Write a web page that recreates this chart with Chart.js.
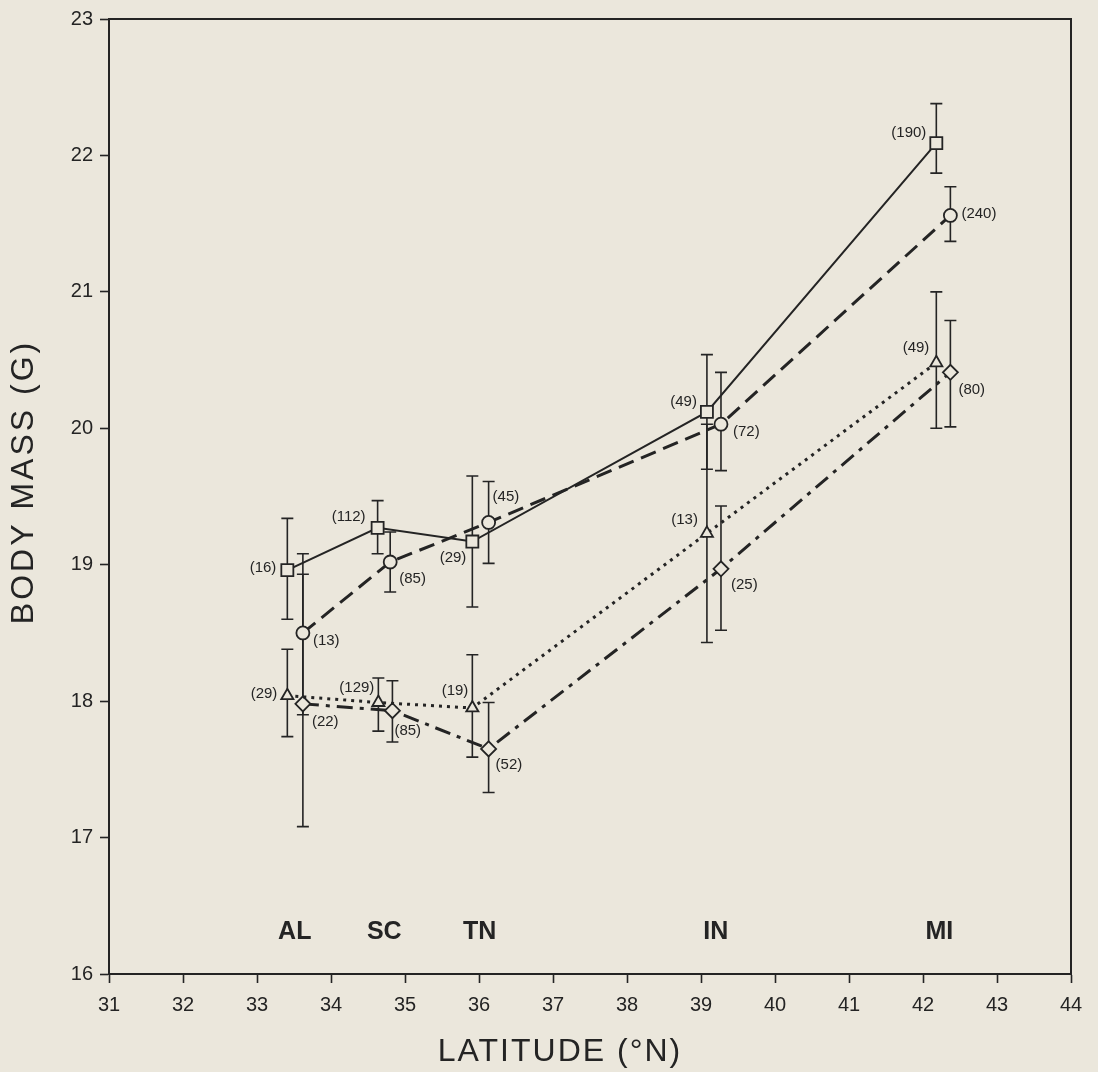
<!DOCTYPE html>
<html lang="en">
<head>
    <meta charset="UTF-8">
    <title>Body mass vs latitude</title>
    <script src="https://cdn.jsdelivr.net/npm/chart.js"></script>
</head>
<body>
    <div class="caixa">
        <canvas id="grafico"></canvas>
    </div>
<script>
    // latitude of each sample (each series is nudged a little sideways in the figure)
    var latQuadrado = [33.41, 34.63, 35.91, 39.08, 42.18];
    var latCirculo  = [33.62, 34.80, 36.13, 39.27, 42.37];
    var latTriangulo = [33.41, 34.64, 35.91, 39.08, 42.18];
    var latLosango  = [33.62, 34.83, 36.13, 39.27, 42.37];

    // mean body mass and error bar ends (g)
    var massaQuadrado = [18.96, 19.27, 19.17, 20.12, 22.09];
    var baixoQuadrado = [18.60, 19.08, 18.69, 19.70, 21.87];
    var altoQuadrado  = [19.34, 19.47, 19.65, 20.54, 22.38];

    var massaCirculo = [18.50, 19.02, 19.31, 20.03, 21.56];
    var baixoCirculo = [17.90, 18.80, 19.01, 19.69, 21.37];
    var altoCirculo  = [19.08, 19.24, 19.61, 20.41, 21.77];

    var massaTriangulo = [18.04, 17.99, 17.95, 19.23, 20.48];
    var baixoTriangulo = [17.74, 17.78, 17.59, 18.43, 20.00];
    var altoTriangulo  = [18.38, 18.17, 18.34, 20.03, 21.00];

    var massaLosango = [17.98, 17.93, 17.65, 18.97, 20.41];
    var baixoLosango = [17.08, 17.70, 17.33, 18.52, 20.01];
    var altoLosango  = [18.93, 18.15, 17.99, 19.43, 20.79];

    // sample sizes
    var nQuadrado = [16, 112, 29, 49, 190];
    var nCirculo = [13, 85, 45, 72, 240];
    var nTriangulo = [29, 129, 19, 13, 49];
    var nLosango = [22, 85, 52, 25, 80];

    // states
    var estados = ['AL', 'SC', 'TN', 'IN', 'MI'];
    var latEstados = [33.51, 34.72, 36.01, 39.2, 42.22];
    var massaEstados = 16.31;

    var tinta = '#242424';
    var fundo = '#ebe7dc';
    var fonte = '"Liberation Sans", Arial, Helvetica, sans-serif';

    // where the (n) labels sit next to each marker, in pixels
    var posQuadrado = [[-11,-2],[-12,-11],[-6,16],[-10,-10],[-10,-10]];
    var posCirculo = [[10,8],[9,17],[4,-26],[12,8],[11,-2]];
    var posTriangulo = [[-10,-2],[-4,-15],[-4,-17],[-9,-13],[-7,-15]];
    var posLosango = [[9,18],[2,20],[7,16],[10,16],[8,18]];

    function pontos(lat, massa){
        var p = [];
        for(var i = 0; i < lat.length; i++){
            p.push({x: lat[i], y: massa[i]});
        }
        return p;
    }

    var series = [
        {lat: latQuadrado, baixo: baixoQuadrado, alto: altoQuadrado, n: nQuadrado, pos: posQuadrado},
        {lat: latCirculo, baixo: baixoCirculo, alto: altoCirculo, n: nCirculo, pos: posCirculo},
        {lat: latTriangulo, baixo: baixoTriangulo, alto: altoTriangulo, n: nTriangulo, pos: posTriangulo},
        {lat: latLosango, baixo: baixoLosango, alto: altoLosango, n: nLosango, pos: posLosango}
    ];

    var barrasErro = {
        id: 'barrasErro',
        beforeDatasetsDraw(chart){
            var ctx = chart.ctx;
            var x = chart.scales.x, y = chart.scales.y;
            ctx.save();
            ctx.strokeStyle = tinta;
            ctx.lineWidth = 1.6;
            series.forEach(function(s){
                for(var i = 0; i < s.lat.length; i++){
                    var px = x.getPixelForValue(s.lat[i]);
                    var y1 = y.getPixelForValue(s.baixo[i]);
                    var y2 = y.getPixelForValue(s.alto[i]);
                    ctx.beginPath();
                    ctx.moveTo(px, y1); ctx.lineTo(px, y2);
                    ctx.moveTo(px - 6, y1); ctx.lineTo(px + 6, y1);
                    ctx.moveTo(px - 6, y2); ctx.lineTo(px + 6, y2);
                    ctx.stroke();
                }
            });
            ctx.restore();
        },
        afterDatasetsDraw(chart){
            var ctx = chart.ctx;
            var x = chart.scales.x, y = chart.scales.y;
            var a = chart.chartArea;
            ctx.save();
            // frame
            ctx.strokeStyle = tinta;
            ctx.lineWidth = 2;
            ctx.strokeRect(a.left, a.top, a.right - a.left, a.bottom - a.top);
            // sample sizes
            ctx.fillStyle = tinta;
            ctx.font = '15px ' + fonte;
            ctx.textBaseline = 'middle';
            series.forEach(function(s, k){
                var ds = chart.data.datasets[k].data;
                for(var i = 0; i < ds.length; i++){
                    var px = x.getPixelForValue(ds[i].x);
                    var py = y.getPixelForValue(ds[i].y);
                    var d = s.pos[i];
                    ctx.textAlign = d[0] < 0 ? 'right' : 'left';
                    ctx.fillText('(' + s.n[i] + ')', px + d[0], py + d[1]);
                }
            });
            // states
            ctx.font = 'bold 25px ' + fonte;
            ctx.textAlign = 'center';
            for(var j = 0; j < estados.length; j++){
                ctx.fillText(estados[j], x.getPixelForValue(latEstados[j]), y.getPixelForValue(massaEstados));
            }
            // axis titles
            ctx.font = '32px ' + fonte;
            ctx.letterSpacing = '2px';
            ctx.fillText('LATITUDE (°N)', 560, 1052);
            ctx.letterSpacing = '3px';
            ctx.translate(24, 482);
            ctx.rotate(-Math.PI / 2);
            ctx.fillText('BODY MASS (G)', 0, 0);
            ctx.restore();
        }
    };

    var fundoPlugin = {
        id: 'fundoPlugin',
        beforeDraw(chart){
            var ctx = chart.ctx;
            ctx.save();
            ctx.fillStyle = fundo;
            ctx.fillRect(0, 0, chart.width, chart.height);
            ctx.restore();
        }
    };

    function serie(lat, massa, estilo, raio, traco, largura){
        return {
            data: pontos(lat, massa),
            showLine: true,
            borderColor: tinta,
            borderWidth: largura,
            borderDash: traco,
            pointStyle: estilo,
            pointRadius: raio,
            pointHoverRadius: raio,
            pointBackgroundColor: fundo,
            pointBorderColor: tinta,
            pointBorderWidth: 1.8,
            tension: 0
        };
    }

    var config = {
        type: 'scatter',
        data: {
            datasets: [
                serie(latQuadrado, massaQuadrado, 'rect', 8.5, [], 2),
                serie(latCirculo, massaCirculo, 'circle', 6.5, [16, 8], 3),
                serie(latTriangulo, massaTriangulo, 'triangle', 7, [3, 5], 3),
                serie(latLosango, massaLosango, 'rectRot', 7.5, [16, 7, 4, 7], 3)
            ]
        },
        options: {
            responsive: true,
            maintainAspectRatio: false,
            animation: false,
            layout: {padding: {top: 15, right: 27, left: 0, bottom: 0}},
            plugins: {
                legend: {display: false},
                tooltip: {enabled: false}
            },
            scales: {
                x: {
                    min: 31, max: 44,
                    ticks: {stepSize: 1, color: tinta, padding: 10, font: {size: 20, family: fonte}},
                    grid: {drawOnChartArea: false, tickLength: 9, color: tinta, tickWidth: 1.6},
                    border: {color: tinta, width: 2},
                    afterFit: function(scale){ scale.height = 98; }
                },
                y: {
                    min: 16, max: 23,
                    ticks: {stepSize: 1, color: tinta, padding: 7, font: {size: 20, family: fonte}},
                    grid: {drawOnChartArea: false, tickLength: 9, color: tinta, tickWidth: 1.6},
                    border: {color: tinta, width: 2},
                    afterFit: function(scale){ scale.width = 109; }
                }
            }
        },
        plugins: [fundoPlugin, barrasErro]
    };

    new Chart(document.getElementById('grafico'), config);
</script>
<style>
    body{
        margin: 0;
        background-color: #ebe7dc;
    }
    .caixa{
        width: 1098px;
        height: 1072px;
    }
</style>
</body>
</html>
